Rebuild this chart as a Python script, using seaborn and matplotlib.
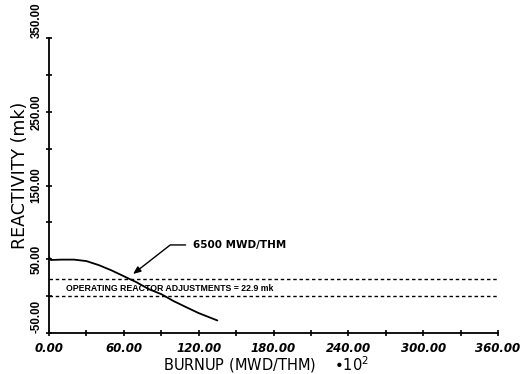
import matplotlib
matplotlib.use("Agg")
import matplotlib.pyplot as plt
import seaborn as sns
import pandas as pd

# Data
burnup = [0, 1.5, 10, 20, 30, 40, 50, 60, 65, 70, 80, 90, 100, 110, 120, 135]
reactivity = [53, 49, 49.5, 49.5, 47.5, 42, 35, 27, 22.9, 19, 9.5, 2.7, -6.8, -15, -23, -33]
adjust_lines = [0.0, 22.9]
x_ticks = [0, 60, 120, 180, 240, 300, 360]
y_ticks = [-50, 50, 150, 250, 350]
annot_text = "6500 MWD/THM"
band_text = "OPERATING REACTOR ADJUSTMENTS = 22.9 mk"

sns.set_theme(style="ticks")
plt.rcParams['font.family'] = ['DejaVu Sans']
narrow = ['Liberation Sans Narrow', 'Liberation Sans', 'DejaVu Sans']

fig = plt.figure(figsize=(5.26, 3.74), dpi=100)
ax = fig.add_axes([49/526, 1-333/374, (498-49)/526, (333-38)/374])

df = pd.DataFrame({"burnup": burnup, "reactivity": reactivity})
sns.lineplot(data=df, x="burnup", y="reactivity", ax=ax, color="black", lw=1.3)

for v in adjust_lines:
    ax.plot([0, 360], [v, v], color="black", lw=1.0, ls=(0, (2.5, 2)))

ax.set_xlim(0, 360)
ax.set_ylim(-50, 350)
sns.despine(ax=ax)
for s in ["left", "bottom"]:
    ax.spines[s].set_linewidth(1.3)
    ax.spines[s].set_color("black")

ax.set_xticks(range(0, 361, 30))
ax.set_xticklabels([f"{t:.2f}" if t in x_ticks else "" for t in range(0, 361, 30)],
                   fontsize=8.5, fontweight="bold", style="italic")
ax.set_yticks(range(-50, 351, 50))
ylabels = ax.set_yticklabels([f"{t:.2f}" if t in y_ticks else "" for t in range(-50, 351, 50)],
                             fontsize=8.3, fontweight="bold", rotation=90, va="center",
                             family=narrow)
ylabels[0].set_va("bottom")
ylabels[-1].set_va("bottom")
ax.tick_params(axis="both", direction="inout", length=5, width=1.2, color="black",
               labelcolor="black")
ax.tick_params(axis="x", pad=4)
ax.tick_params(axis="y", pad=2)

ax.set_xlabel("BURNUP (MWD/THM)    \u2022$10^2$", fontsize=10.5, color="black")
ax.xaxis.set_label_coords(0.483, -0.072)
ax.set_ylabel("REACTIVITY (mk)", fontsize=12.5, color="black")
ax.yaxis.set_label_coords(-0.045, (333-175)/295)

ax.annotate(annot_text, xy=(67.4, 30), xytext=(115.5, 69.4),
            fontsize=7.5, fontweight="bold", va="center", ha="left", color="black",
            arrowprops=dict(arrowstyle="-|>,head_length=0.6,head_width=0.25",
                            color="black", lw=1.0,
                            connectionstyle="angle,angleA=0,angleB=38,rad=0",
                            shrinkA=3, shrinkB=0))

ax.text(13.6, 10.5, band_text, fontsize=6.3, fontweight="bold", va="center", ha="left",
        color="black", family=narrow)

fig.savefig("out.png", dpi=100)
